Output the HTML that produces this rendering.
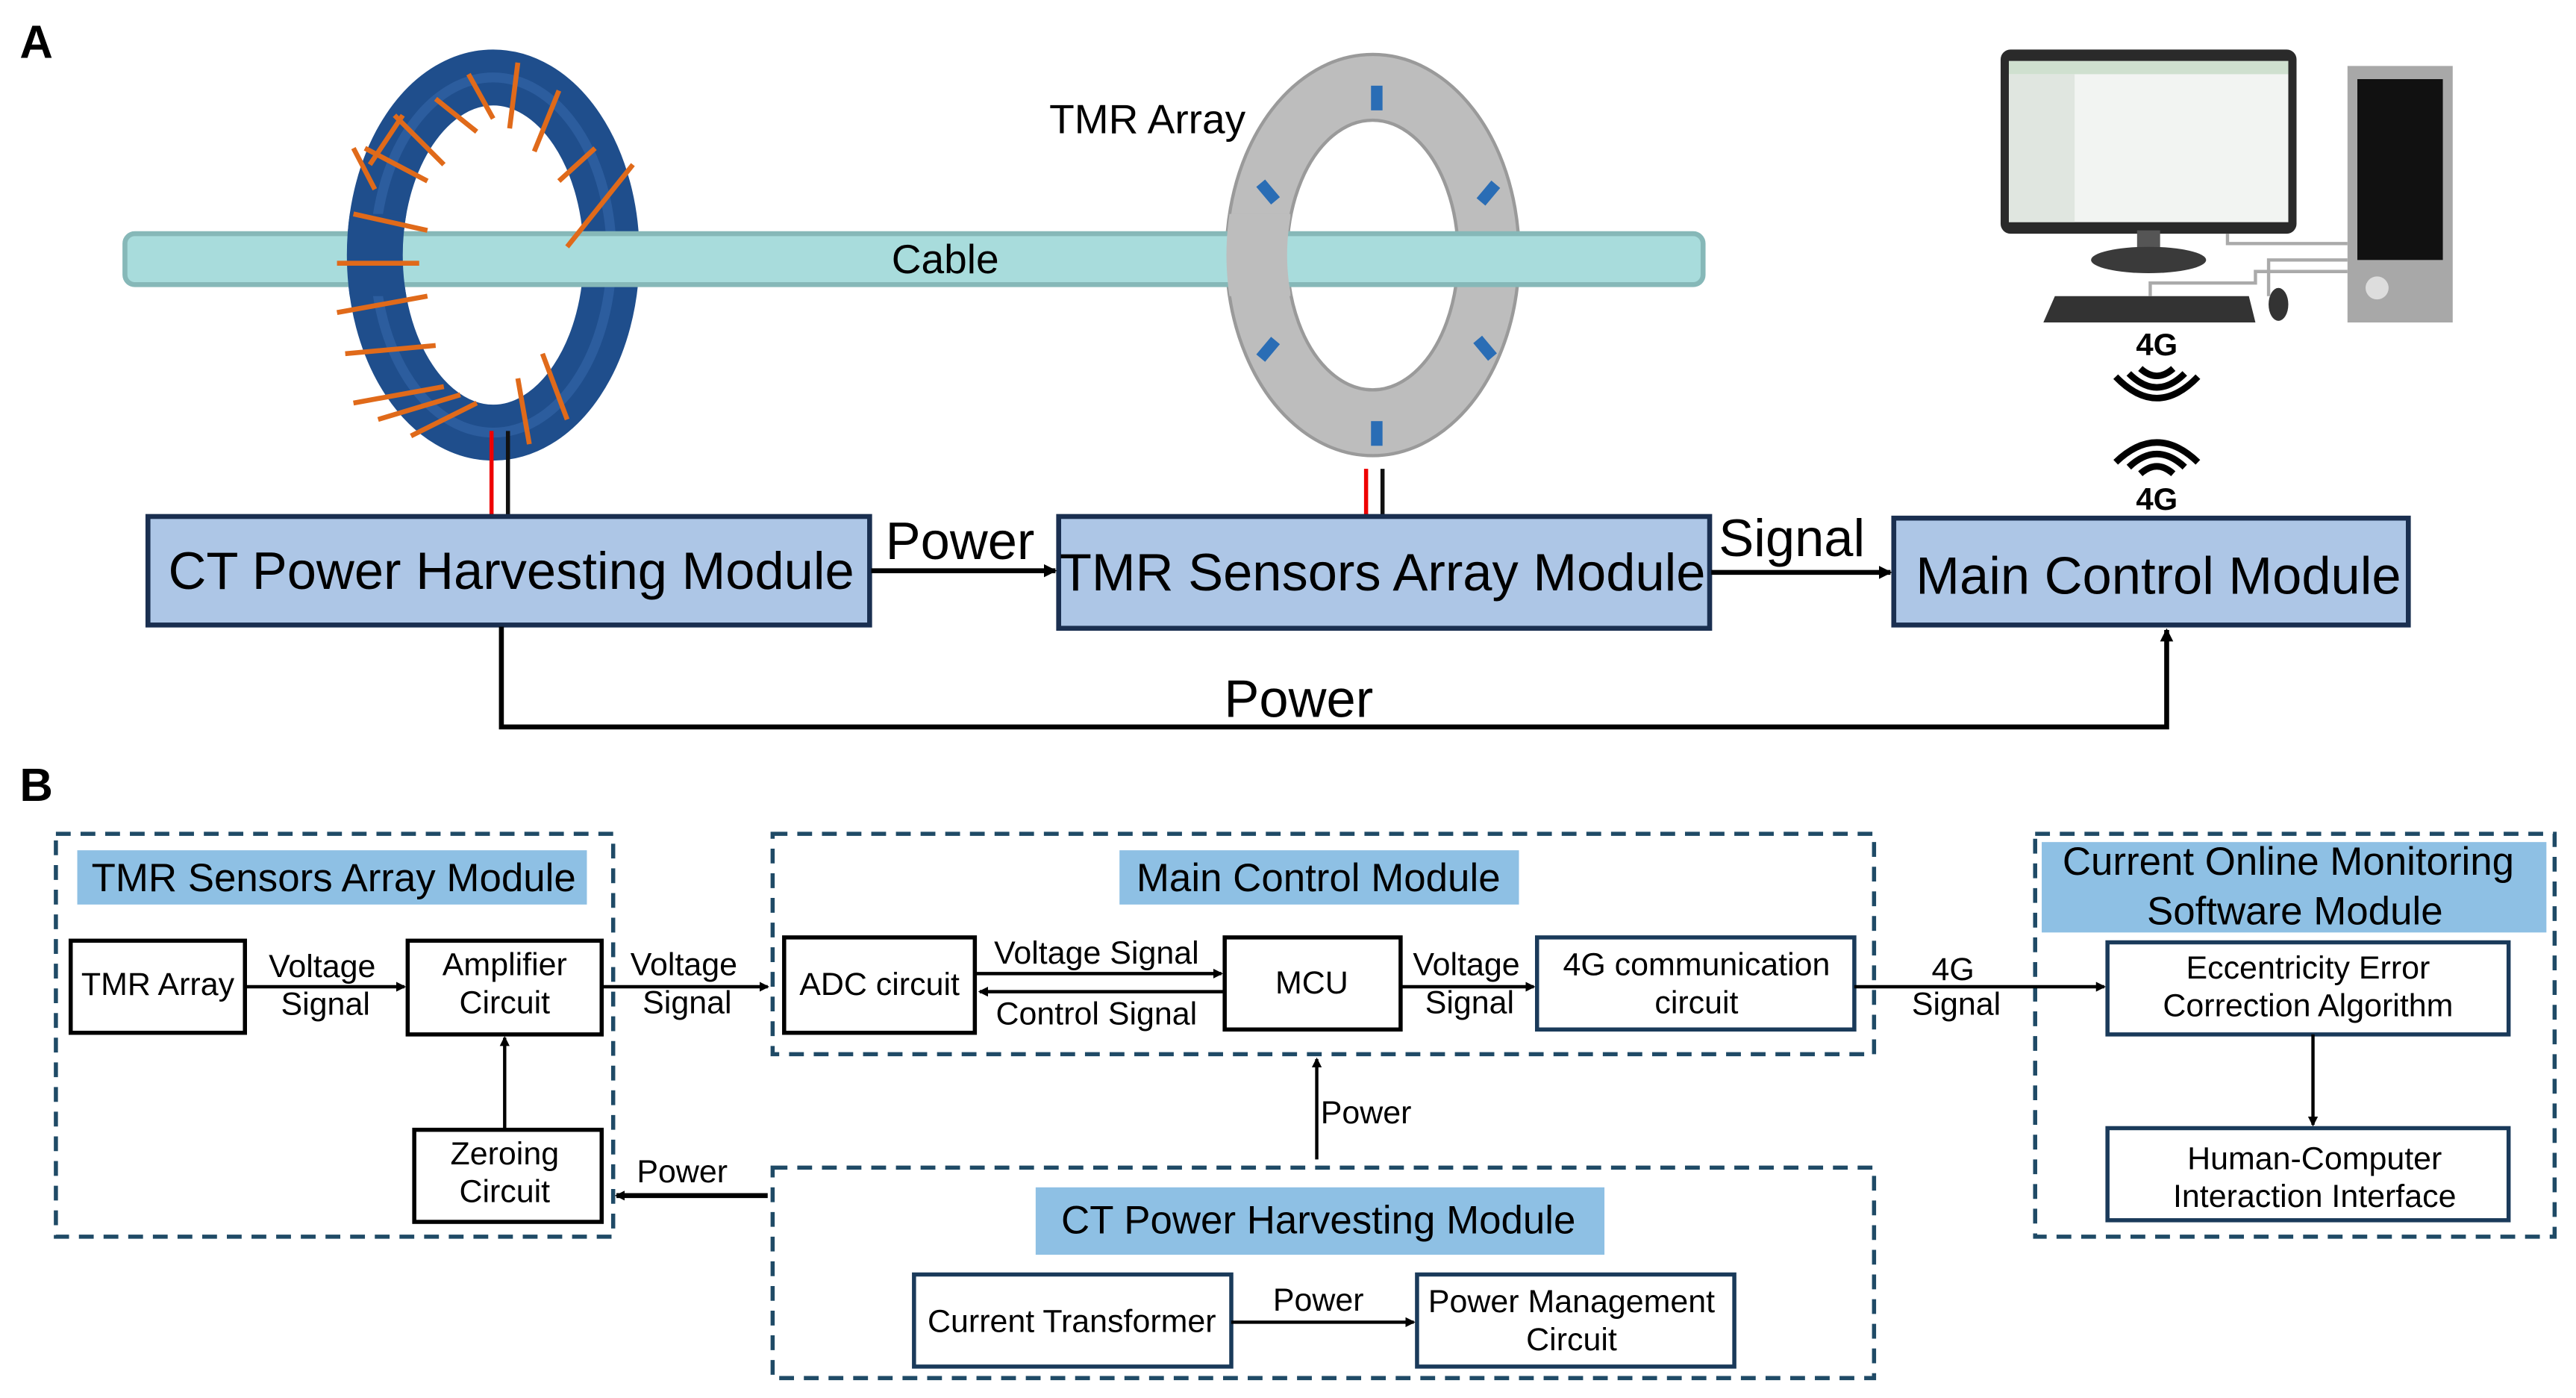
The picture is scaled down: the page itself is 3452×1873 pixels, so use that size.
<!DOCTYPE html>
<html><head><meta charset="utf-8"><style>html,body{margin:0;padding:0;background:#fff}svg{display:block}text{font-family:"Liberation Sans",sans-serif}</style></head><body>
<svg width="3452" height="1873" viewBox="0 0 1567 850" xmlns="http://www.w3.org/2000/svg">
<defs>
<marker id="ah" markerWidth="8" markerHeight="8" refX="7" refY="4" orient="auto" markerUnits="userSpaceOnUse"><path d="M0,0 L8,4 L0,8 z" fill="#000"/></marker>
<marker id="ahs" markerWidth="6" markerHeight="6" refX="5" refY="3" orient="auto" markerUnits="userSpaceOnUse"><path d="M0,0 L6,3 L0,6 z" fill="#000"/></marker>
<clipPath id="cl1"><rect x="195" y="130" width="70" height="50"/></clipPath>
<clipPath id="cl2"><rect x="740" y="130" width="45" height="50"/></clipPath>
</defs>
<rect width="1567" height="850" fill="#fff"/>
<text x="12" y="35" font-size="28" font-weight="bold">A</text>
<g id="tor"><ellipse cx="300" cy="155" rx="72" ry="108" fill="none" stroke="#1f4e8c" stroke-width="34"/>
<ellipse cx="300" cy="155" rx="72" ry="108" fill="none" stroke="#3a6cb0" stroke-width="6" opacity="0.5"/></g>
<path id="ring" d="M835,33 A89,122 0 1,0 835.1,33 Z M835,73 A52,82 0 1,1 834.9,73 Z" fill="#bdbdbd" fill-rule="evenodd" stroke="#9a9a9a" stroke-width="2"/>
<rect x="76" y="142" width="960" height="31" rx="6" fill="#a8dcdc" stroke="#86b8b8" stroke-width="3"/>
<text x="575" y="166" font-size="25" text-anchor="middle">Cable</text>
<g clip-path="url(#cl1)"><ellipse cx="300" cy="155" rx="72" ry="108" fill="none" stroke="#1f4e8c" stroke-width="34"/></g>
<g clip-path="url(#cl2)"><path d="M835,33 A89,122 0 1,0 835.1,33 Z M835,73 A52,82 0 1,1 834.9,73 Z" fill="#bdbdbd" fill-rule="evenodd"/></g>
<g stroke="#e06a1a" stroke-width="3" fill="none">
<path d="M285,45 L300,72 M315,38 L310,78 M340,55 L325,92 M362,90 L340,110 M385,100 L345,150 M222,90 L260,110 M215,130 L260,140 M205,160 L255,160 M205,190 L260,180 M210,215 L265,210 M215,245 L270,235 M230,255 L280,240 M250,265 L290,245 M330,215 L345,255 M315,230 L322,270 M265,60 L290,80 M240,70 L270,100 M225,100 L245,70 M228,115 L215,90"/>
</g>
<g fill="#2a6db5"><rect x="834" y="52" width="7" height="15"/><rect x="834" y="256" width="7" height="15"/><rect x="768" y="110" width="7" height="14" transform="rotate(-40 771 117)"/><rect x="902" y="110" width="7" height="14" transform="rotate(40 905 117)"/><rect x="768" y="205" width="7" height="14" transform="rotate(40 771 212)"/><rect x="900" y="205" width="7" height="14" transform="rotate(-40 903 212)"/></g>
<text x="698" y="81" font-size="25" text-anchor="middle">TMR Array</text>
<line x1="299" y1="262" x2="299" y2="314" stroke="#e00" stroke-width="2.5"/><line x1="309" y1="262" x2="309" y2="314" stroke="#111" stroke-width="2.5"/>
<line x1="831" y1="285" x2="831" y2="314" stroke="#e00" stroke-width="2.5"/><line x1="841" y1="285" x2="841" y2="314" stroke="#111" stroke-width="2.5"/>
<rect x="1217" y="30" width="180" height="112" rx="6" fill="#2a2a2a"/>
<rect x="1222" y="37" width="170" height="98" fill="#f2f4f2"/>
<rect x="1222" y="37" width="170" height="8" fill="#cfe0cf"/>
<rect x="1222" y="45" width="40" height="90" fill="#e0e6e0"/>
<rect x="1300" y="140" width="14" height="14" fill="#555"/>
<ellipse cx="1307" cy="158" rx="35" ry="8" fill="#3a3a3a"/>
<rect x="1428" y="40" width="64" height="156" fill="#a8a8a8"/>
<rect x="1434" y="48" width="52" height="110" fill="#111"/>
<circle cx="1446" cy="175" r="7" fill="#ddd"/>
<path d="M1250,180 L1368,180 L1372,196 L1243,196 z" fill="#333"/>
<ellipse cx="1386" cy="185" rx="6" ry="10" fill="#333"/>
<path d="M1355,142 L1355,148 L1428,148 M1380,180 L1380,158 L1428,158 M1308,180 L1308,172 L1372,172 L1372,165 L1428,165" stroke="#aaa" stroke-width="2" fill="none"/>
<text x="1312" y="216" font-size="19" font-weight="bold" text-anchor="middle">4G</text>
<g stroke="#000" stroke-width="4" fill="none"><path d="M1302,224 Q1312,233 1322,224"/><path d="M1295,227 Q1312,244 1329,227"/><path d="M1287,229 Q1312,255 1337,229"/>
<path d="M1302,288 Q1312,279 1322,288"/><path d="M1295,284 Q1312,268 1329,284"/><path d="M1287,281 Q1312,257 1337,281"/></g>
<text x="1312" y="310" font-size="19" font-weight="bold" text-anchor="middle">4G</text>
<g fill="#adc6e6" stroke="#1a2f50" stroke-width="3">
<rect x="90" y="314" width="439" height="66"/><rect x="644" y="314" width="396" height="68"/><rect x="1152" y="315" width="313" height="65"/></g>
<g font-size="32" text-anchor="middle">
<text x="311" y="358">CT Power Harvesting Module</text>
<text x="841" y="359">TMR Sensors Array Module</text>
<text x="1313" y="361">Main Control Module</text>
<text x="584" y="340">Power</text>
<text x="1090" y="338">Signal</text>
<text x="790" y="436">Power</text></g>
<g stroke="#000" stroke-width="3" fill="none">
<line x1="530" y1="347" x2="642" y2="347" marker-end="url(#ah)"/>
<line x1="1041" y1="348" x2="1150" y2="348" marker-end="url(#ah)"/>
<path d="M305,381 L305,442 L1318,442 L1318,383" marker-end="url(#ah)"/></g>
<text x="12" y="487" font-size="28" font-weight="bold">B</text>
<g fill="none" stroke="#1f4a66" stroke-width="2.5" stroke-dasharray="9,6">
<rect x="34" y="507" width="339" height="245"/><rect x="470" y="507" width="670" height="134"/><rect x="1238" y="507" width="316" height="245"/><rect x="470" y="710" width="670" height="128"/></g>
<g fill="#8ec0e4"><rect x="47" y="517" width="310" height="33"/><rect x="681" y="517" width="243" height="33"/><rect x="1242" y="512" width="307" height="55"/><rect x="630" y="722" width="346" height="41"/></g>
<g font-size="24" text-anchor="middle">
<text x="203" y="542">TMR Sensors Array Module</text>
<text x="802" y="542">Main Control Module</text>
<text x="1392" y="532">Current Online Monitoring</text>
<text x="1396" y="562">Software Module</text>
<text x="802" y="750">CT Power Harvesting Module</text></g>
<g fill="#fff" stroke="#000" stroke-width="2.5">
<rect x="43" y="572" width="106" height="56"/><rect x="248" y="572" width="118" height="57"/><rect x="252" y="687" width="114" height="56"/>
<rect x="477" y="570" width="116" height="58"/><rect x="745" y="570" width="107" height="56"/></g>
<g fill="#fff" stroke="#1a3a5a" stroke-width="2.5">
<rect x="935" y="570" width="193" height="56"/><rect x="1282" y="573" width="244" height="56"/><rect x="1282" y="686" width="244" height="56"/>
<rect x="556" y="775" width="193" height="56"/><rect x="862" y="775" width="193" height="56"/></g>
<g font-size="19.5" text-anchor="middle">
<text x="96" y="605">TMR Array</text>
<text x="307" y="593">Amplifier</text><text x="307" y="616">Circuit</text>
<text x="307" y="708">Zeroing</text><text x="307" y="731">Circuit</text>
<text x="535" y="605">ADC circuit</text>
<text x="798" y="604">MCU</text>
<text x="1032" y="593">4G communication</text><text x="1032" y="616">circuit</text>
<text x="1404" y="595">Eccentricity Error</text><text x="1404" y="618">Correction Algorithm</text>
<text x="1408" y="711">Human-Computer</text><text x="1408" y="734">Interaction Interface</text>
<text x="652" y="810">Current Transformer</text>
<text x="956" y="798">Power Management</text><text x="956" y="821">Circuit</text>
<text x="196" y="594">Voltage</text><text x="198" y="617">Signal</text>
<text x="416" y="593">Voltage</text><text x="418" y="616">Signal</text>
<text x="667" y="586">Voltage Signal</text><text x="667" y="623">Control Signal</text>
<text x="892" y="593">Voltage</text><text x="894" y="616">Signal</text>
<text x="1188" y="596">4G</text><text x="1190" y="617">Signal</text>
<text x="415" y="719">Power</text>
<text x="831" y="683">Power</text>
<text x="802" y="797">Power</text></g>
<g stroke="#000" stroke-width="2" fill="none">
<line x1="149" y1="600" x2="246" y2="600" marker-end="url(#ahs)"/>
<line x1="366" y1="600" x2="467" y2="600" marker-end="url(#ahs)"/>
<line x1="594" y1="592" x2="743" y2="592" marker-end="url(#ahs)"/>
<line x1="745" y1="603" x2="596" y2="603" marker-end="url(#ahs)"/>
<line x1="852" y1="600" x2="933" y2="600" marker-end="url(#ahs)"/>
<line x1="1128" y1="600" x2="1280" y2="600" marker-end="url(#ahs)"/>
<line x1="1407" y1="629" x2="1407" y2="684" marker-end="url(#ahs)"/>
<line x1="307" y1="687" x2="307" y2="631" marker-end="url(#ahs)"/>
<line x1="801" y1="705" x2="801" y2="644" marker-end="url(#ahs)"/>
<line x1="749" y1="804" x2="860" y2="804" marker-end="url(#ahs)"/>
<line x1="467" y1="727" x2="375" y2="727" stroke-width="3" marker-end="url(#ahs)"/></g>
</svg>
</body></html>
